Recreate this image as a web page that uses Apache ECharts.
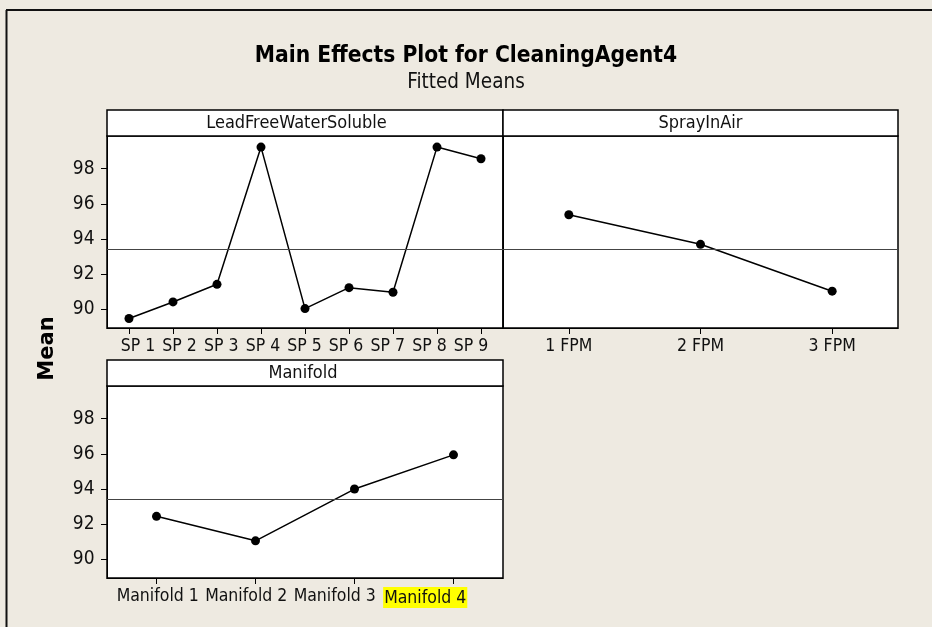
<!DOCTYPE html>
<html>
<head>
<meta charset="utf-8">
<script src="https://cdn.jsdelivr.net/npm/echarts@6/dist/echarts.min.js"></script>
<style>
html,body{margin:0;padding:0;background:#EEEAE1;}
#chart{width:932px;height:627px;}
</style>
</head>
<body>
<div id="chart"></div>
<script>
const titleText = 'Main Effects Plot for CleaningAgent4';
const subtitleText = 'Fitted Means';
const yAxisName = 'Mean';
const panelNames = ['LeadFreeWaterSoluble', 'SprayInAir', 'Manifold'];
const lfwsCats = ['SP 1', 'SP 2', 'SP 3', 'SP 4', 'SP 5', 'SP 6', 'SP 7', 'SP 8', 'SP 9'];
const lfwsMeans = [89.49, 90.43, 91.43, 99.22, 90.05, 91.24, 90.98, 99.22, 98.56];
const sprayCats = ['1 FPM', '2 FPM', '3 FPM'];
const sprayMeans = [95.38, 93.70, 91.04];
const manifoldCats = ['Manifold 1', 'Manifold 2', 'Manifold 3', 'Manifold 4'];
const manifoldMeans = [92.45, 91.06, 94.00, 95.94];
const yTicks = [90, 92, 94, 96, 98];
const grandMean = 93.4;
const highlightLabel = 'Manifold 4';

// ---- layout / style (not data) ----
const FONT = "'DejaVu Sans Condensed', 'DejaVu Sans', sans-serif";
const YMIN = 88.95, YMAX = 99.85;
const grids = [
  {left: 107, top: 136, width: 396, height: 192},
  {left: 503, top: 136, width: 395, height: 192},
  {left: 107, top: 386, width: 396, height: 192}
];
const headerCenters = [296.5, 700.5, 303];
// horizontal nudges of tick labels (Minitab packs long labels together)
const labelNudges = [
  [9, 6.6, 4.2, 1.9, -0.5, -2.9, -5.2, -7.6, -10],
  [0, 0, 0],
  [1.2, -9.3, -19.8, -28.3]
];

function xAxis(idx, cats) {
  const nudges = labelNudges[idx];
  const rich = {
    t: {color: '#111', fontFamily: FONT, fontSize: 17.5},
    hl: {backgroundColor: '#FFFF00', color: '#111', fontFamily: FONT, fontSize: 17.5, padding: [2, 1, 1, 1]}
  };
  nudges.forEach(function (s, i) { rich['g' + i] = {width: Math.abs(s) * 2, height: 1}; });
  return {
    type: 'category', gridIndex: idx, data: cats, boundaryGap: true,
    axisLine: {show: true, lineStyle: {color: '#000', width: 1}},
    axisTick: {show: true, alignWithLabel: true, length: 6, lineStyle: {color: '#000'}},
    axisLabel: {
      interval: 0, margin: 9, color: '#111', fontFamily: FONT, fontSize: 17.5,
      formatter: function (v, i) {
        const s = nudges[i] || 0;
        const body = v === highlightLabel ? '{hl|' + v + '}' : '{t|' + v + '}';
        if (Math.abs(s) < 0.01) return body;
        const gap = '{g' + i + '|}';
        return s > 0 ? gap + body : body + gap;
      },
      rich: rich
    },
    splitLine: {show: false}
  };
}
function yAxis(idx, showLabels) {
  return {
    type: 'value', gridIndex: idx, min: YMIN, max: YMAX,
    axisLine: {show: true, lineStyle: {color: '#000', width: 1}},
    axisTick: {show: showLabels, length: 6, customValues: yTicks, lineStyle: {color: '#000'}},
    axisLabel: {show: showLabels, customValues: yTicks, margin: 12.5, color: '#111', fontFamily: FONT, fontSize: 19},
    splitLine: {show: false}
  };
}
function series(idx, data) {
  return {
    type: 'line', xAxisIndex: idx, yAxisIndex: idx, data: data,
    symbol: 'circle', symbolSize: 9, silent: true, animation: false,
    itemStyle: {color: '#000'}, lineStyle: {color: '#000', width: 1.5},
    markLine: {
      silent: true, symbol: 'none', label: {show: false}, animation: false,
      lineStyle: {color: '#444', width: 1, type: 'solid'},
      data: [{yAxis: grandMean}]
    }
  };
}

const headerGraphics = [];
grids.forEach(function (g, i) {
  headerGraphics.push({
    type: 'rect', shape: {x: g.left, y: g.top - 26, width: g.width, height: 26},
    style: {fill: '#fff', stroke: '#000', lineWidth: 1.5}, z: 10
  });
  headerGraphics.push({
    type: 'text', x: headerCenters[i], y: g.top - 13, z: 11,
    style: {text: panelNames[i], font: '18px ' + FONT, fill: '#111', textAlign: 'center', textVerticalAlign: 'middle'}
  });
});

const chart = echarts.init(document.getElementById('chart'), null, {renderer: 'canvas'});
chart.setOption({
  backgroundColor: '#EEEAE1',
  animation: false,
  grid: grids.map(function (g) {
    return Object.assign({show: true, backgroundColor: '#fff', borderColor: '#000', borderWidth: 1.5, containLabel: false}, g);
  }),
  xAxis: [xAxis(0, lfwsCats), xAxis(1, sprayCats), xAxis(2, manifoldCats)],
  yAxis: [yAxis(0, true), yAxis(1, false), yAxis(2, true)],
  series: [series(0, lfwsMeans), series(1, sprayMeans), series(2, manifoldMeans)],
  graphic: [
    {type: 'line', shape: {x1: 6, y1: 10, x2: 932, y2: 10}, style: {stroke: '#111', lineWidth: 2}},
    {type: 'line', shape: {x1: 6.5, y1: 10, x2: 6.5, y2: 627}, style: {stroke: '#111', lineWidth: 2}},
    {type: 'text', x: 466, y: 56, style: {text: titleText, font: 'bold 22.6px ' + FONT, fill: '#000', textAlign: 'center', textVerticalAlign: 'middle'}},
    {type: 'text', x: 466, y: 83, style: {text: subtitleText, font: '20.5px ' + FONT, fill: '#111', textAlign: 'center', textVerticalAlign: 'middle'}},
    {type: 'text', x: 47.5, y: 348.5, rotation: Math.PI / 2, style: {text: yAxisName, font: "bold 21px 'DejaVu Sans', sans-serif", fill: '#000', textAlign: 'center', textVerticalAlign: 'middle'}}
  ].concat(headerGraphics)
});
</script>
</body>
</html>
